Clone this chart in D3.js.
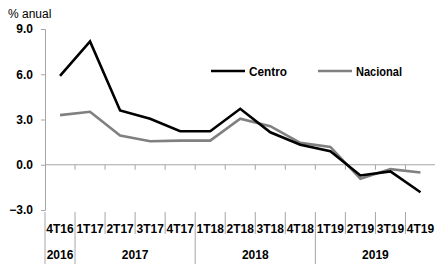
<!DOCTYPE html>
<html><head><meta charset="utf-8">
<script src="https://cdn.jsdelivr.net/npm/d3@7"></script>
<style>
html,body{margin:0;padding:0;background:#fff;}
svg{display:block;}
text{font-family:"Liberation Sans",Arial,sans-serif;}
</style></head>
<body>
<svg id="c" width="435" height="264"></svg>
<script>
const categories = ["4T16","1T17","2T17","3T17","4T17","1T18","2T18","3T18","4T18","1T19","2T19","3T19","4T19"];
const years = [
  {label:"2016", from:0, to:1},
  {label:"2017", from:1, to:5},
  {label:"2018", from:5, to:9},
  {label:"2019", from:9, to:13}
];
const centro   = [5.89, 8.18, 3.6, 3.05, 2.22, 2.22, 3.71, 2.15, 1.33, 0.89, -0.71, -0.44, -1.82];
const nacional = [3.29, 3.51, 1.93, 1.56, 1.6, 1.6, 3.05, 2.56, 1.45, 1.18, -0.93, -0.29, -0.51];
const yTicks = [-3, 0, 3, 6, 9];
const seriesNames = ["Centro", "Nacional"];

const svg = d3.select("#c");
const x0 = 45, x1 = 435.5;
const x = d3.scaleBand().domain(categories).range([x0, x1]).padding(0);
const y = d3.scaleLinear().domain([-3, 9]).range([210, 29]);
const axisColor = "#a6a6a6";

// y axis
const yAxis = svg.append("g").attr("transform", `translate(${x0},0)`)
  .call(d3.axisLeft(y).tickValues(yTicks).tickSize(4).tickFormat(d3.format(".1f")));
yAxis.select(".domain").attr("stroke", axisColor);
yAxis.selectAll(".tick line").attr("stroke", axisColor);
yAxis.selectAll(".tick text").attr("fill", "#000").attr("font-weight", "bold")
  .attr("font-size", 12).attr("x", -12)
  .style("font-family", '"Liberation Sans", Arial, sans-serif');

// zero line with ticks
svg.append("line").attr("x1", x0).attr("x2", x1).attr("y1", y(0)).attr("y2", y(0))
  .attr("stroke", axisColor).attr("stroke-width", 1);
const bounds = categories.map((c) => x(c)).concat([x1]);
svg.selectAll(".zt").data(bounds.slice(1, -1)).enter().append("line")
  .attr("x1", d => d).attr("x2", d => d).attr("y1", y(0)).attr("y2", y(0) + 5)
  .attr("stroke", axisColor);

// category separators in label area
const yearStarts = years.map(d => d.from).concat([13]);
bounds.forEach((b, i) => {
  const isYear = yearStarts.includes(i);
  svg.append("line").attr("x1", b).attr("x2", b)
    .attr("y1", 212).attr("y2", isYear ? 264 : 234)
    .attr("stroke", axisColor).attr("stroke-width", 1);
});

// category labels
svg.selectAll(".cl").data(categories).enter().append("text")
  .attr("x", d => x(d) + x.bandwidth() / 2).attr("y", 233)
  .attr("text-anchor", "middle").attr("font-weight", "bold").attr("font-size", 12)
  .attr("fill", "#000").text(d => d);

// year labels
svg.selectAll(".yl").data(years).enter().append("text")
  .attr("x", d => (bounds[d.from] + bounds[d.to]) / 2).attr("y", 259)
  .attr("text-anchor", "middle").attr("font-weight", "bold").attr("font-size", 12)
  .attr("fill", "#000").text(d => d.label);

// y title
svg.append("text").attr("x", 8).attr("y", 18).attr("font-size", 12)
  .attr("fill", "#000").text("% anual");

// lines
const line = d3.line().x((d, i) => x(categories[i]) + x.bandwidth() / 2).y(d => y(d));
svg.append("path").datum(nacional).attr("d", line).attr("fill", "none")
  .attr("stroke", "#808080").attr("stroke-width", 2.6).attr("stroke-linejoin", "miter");
svg.append("path").datum(centro).attr("d", line).attr("fill", "none")
  .attr("stroke", "#000").attr("stroke-width", 2.6).attr("stroke-linejoin", "miter");

// legend
const legend = [
  {name: seriesNames[0], color: "#000", lx: 211, w: 38},
  {name: seriesNames[1], color: "#808080", lx: 318, w: 46}
];
legend.forEach(l => {
  svg.append("line").attr("x1", l.lx).attr("x2", l.lx + 34).attr("y1", 71).attr("y2", 71)
    .attr("stroke", l.color).attr("stroke-width", 2.6);
  svg.append("text").attr("x", l.lx + 38).attr("y", 75.5).attr("font-size", 13.5)
    .attr("font-weight", "bold").attr("fill", "#000")
    .attr("textLength", l.w).attr("lengthAdjust", "spacingAndGlyphs").text(l.name);
});
</script>
</body></html>
